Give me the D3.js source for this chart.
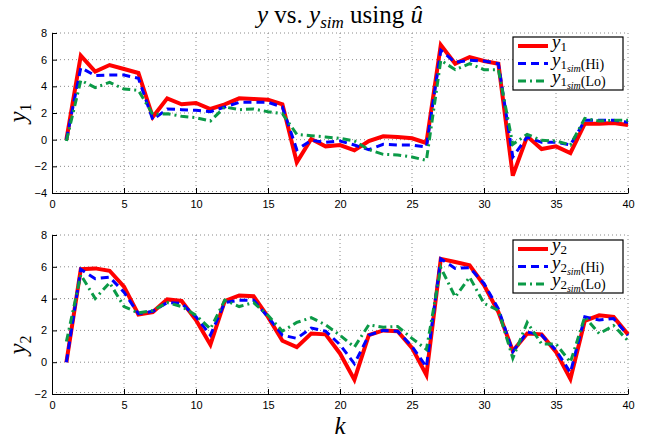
<!DOCTYPE html>
<html>
<head>
<meta charset="utf-8">
<script src="https://cdn.jsdelivr.net/npm/d3@7"></script>
<style>
  body { margin: 0; background: #fff; }
  svg { display: block; }
  .tick text { font-family: "Liberation Sans", Arial, sans-serif; font-size: 11px; fill: #000; }
</style>
</head>
<body>
<div id="content"></div>
<script>
const k = d3.range(1, 41);
const xTicks = [0, 5, 10, 15, 20, 25, 30, 35, 40];

const y1 = [0, 6.3, 5.1, 5.6, 5.3, 5.0, 1.7, 3.1, 2.65, 2.75, 2.3, 2.65, 3.1, 3.05, 3.0, 2.65, -1.7, 0.05, -0.5, -0.4,
    -0.8, -0.1, 0.25, 0.2, 0.1, -0.25, 7.1, 5.7, 6.2, 5.9, 5.7, -2.7, 0.25, -0.7, -0.5, -1.0, 1.2, 1.2, 1.25, 1.1];
const y1Hi = [0, 5.4, 4.8, 4.85, 4.85, 4.6, 1.5, 2.3, 2.25, 2.2, 2.1, 2.45, 2.8, 2.8, 2.8, 2.45, -0.75, -0.05, -0.2, -0.1,
    -0.4, -0.75, -0.35, -0.4, -0.4, -0.55, 6.7, 5.8, 5.95, 5.9, 5.7, -1.3, 0.2, -0.2, -0.2, -0.4, 1.45, 1.45, 1.45, 1.3];
const y1Lo = [-0.1, 4.45, 3.9, 4.3, 3.8, 3.7, 1.9, 1.95, 1.75, 1.65, 1.4, 2.45, 2.25, 2.3, 2.1, 1.95, 0.4, 0.3, 0.2, 0.1,
    -0.1, -0.75, -1.1, -1.15, -1.3, -1.55, 5.95, 5.25, 5.7, 5.25, 5.25, -0.35, 0.4, -0.05, -0.1, -0.4, 1.6, 1.4, 1.45, 1.45];

const y2 = [0, 5.85, 5.9, 5.75, 4.75, 3.0, 3.15, 3.95, 3.85, 2.65, 1.1, 3.85, 4.2, 4.15, 2.85, 1.35, 0.95, 1.8, 1.75, 0.55,
    -1.1, 1.7, 2.0, 1.95, 0.9, -0.8, 6.5, 6.3, 6.1, 4.85, 3.15, 0.7, 1.8, 1.75, 0.65, -1.05, 2.6, 2.95, 2.85, 1.75];
const y2Hi = [0, 5.85, 5.25, 5.35, 4.4, 3.05, 3.2, 3.75, 3.7, 2.85, 1.7, 3.75, 3.9, 3.9, 2.85, 1.7, 1.5, 2.15, 1.95, 1.1,
    -0.1, 1.7, 2.0, 1.95, 1.0, -0.3, 6.5, 5.9, 5.95, 4.95, 3.35, 0.65, 1.9, 1.7, 0.75, -0.65, 2.85, 2.65, 2.75, 1.7];
const y2Lo = [1.3, 5.5, 4.0, 5.0, 3.5, 3.1, 3.25, 3.75, 3.5, 2.95, 2.1, 3.9, 3.5, 3.75, 2.95, 1.95, 2.5, 2.8, 2.35, 1.7,
    0.95, 2.35, 2.2, 2.25, 1.5, 0.8, 5.95, 4.1, 5.35, 3.7, 3.25, 0.25, 2.5, 1.15, 1.15, 0.0, 2.85, 1.8, 2.3, 1.35];

const width = 654;
const height = 443;
const serif = '"Liberation Serif", "Times New Roman", serif';

const styles = [
    { color: '#ff0000', width: 4, dash: null },
    { color: '#0000ff', width: 3, dash: '8,5' },
    { color: '#0b9a47', width: 3, dash: '8,4,2,4' },
];

const panels = [
    { top: 33, bottom: 193, domain: [-4, 8], series: [y1, y1Hi, y1Lo], idx: '1', labelY: 113, legendY: 37 },
    { top: 235, bottom: 394, domain: [-2, 8], series: [y2, y2Hi, y2Lo], idx: '2', labelY: 345, legendY: 240 },
];

const svg = d3.select('#content').append('svg')
    .attr('width', width)
    .attr('height', height);

const x = d3.scaleLinear().domain([0, 40]).range([52, 628]);

// title: y vs. y_sim using u-hat
const title = svg.append('text')
    .attr('x', 340).attr('y', 23)
    .attr('text-anchor', 'middle')
    .style('font-family', serif)
    .style('font-size', '25px');
title.append('tspan').style('font-style', 'italic').text('y');
title.append('tspan').text(' vs. ');
title.append('tspan').style('font-style', 'italic').text('y');
title.append('tspan').style('font-style', 'italic').style('font-size', '17px').attr('dy', 5).text('sim');
title.append('tspan').attr('dy', -5).text(' using ');
title.append('tspan').style('font-style', 'italic').text('\u00fb');

panels.forEach((p) => {
    const y = d3.scaleLinear().domain(p.domain).range([p.bottom, p.top]);
    const g = svg.append('g');
    const yTicks = d3.range(p.domain[0], p.domain[1] + 1, 2);

    // dotted grid
    g.append('g').selectAll('line').data(xTicks.slice(1)).enter().append('line')
        .attr('x1', d => x(d)).attr('x2', d => x(d))
        .attr('y1', p.top).attr('y2', p.bottom)
        .style('stroke', '#8a8a8a').style('stroke-width', 1).style('stroke-dasharray', '1,3');
    g.append('g').selectAll('line').data(yTicks).enter().append('line')
        .attr('x1', x(0)).attr('x2', x(40))
        .attr('y1', d => y(d) - (d === p.domain[0] ? 1.5 : 0))
        .attr('y2', d => y(d) - (d === p.domain[0] ? 1.5 : 0))
        .style('stroke', '#8a8a8a').style('stroke-width', 1).style('stroke-dasharray', '1,3');

    g.append('g')
        .attr('transform', `translate(0,${p.bottom})`)
        .call(d3.axisBottom(x).tickValues(xTicks).tickSizeInner(-5).tickSizeOuter(0).tickPadding(7))
        .call(a => a.select('.domain').style('stroke', '#000'));

    g.append('g')
        .attr('transform', `translate(${x(0)},0)`)
        .call(d3.axisLeft(y).tickValues(yTicks).tickSizeInner(-5).tickSizeOuter(0).tickPadding(5))
        .call(a => a.select('.domain').style('stroke', '#000'));

    const line = d3.line().x((d, i) => x(k[i])).y(d => y(d));
    p.series.forEach((s, i) => {
        g.append('path')
            .datum(s)
            .attr('d', line)
            .style('fill', 'none')
            .style('stroke', styles[i].color)
            .style('stroke-width', styles[i].width)
            .style('stroke-dasharray', styles[i].dash)
            .style('stroke-linejoin', 'miter');
    });

    // y label, rotated
    const yl = svg.append('text')
        .attr('transform', `translate(26,${p.labelY}) rotate(-90)`)
        .attr('text-anchor', 'middle')
        .style('font-family', serif)
        .style('font-size', '25px');
    yl.append('tspan').style('font-style', 'italic').text('y');
    yl.append('tspan').style('font-size', '16px').attr('dy', 5).text(p.idx);

    // legend
    const lg = svg.append('g').attr('transform', `translate(513,${p.legendY})`);
    lg.append('rect')
        .attr('width', 110).attr('height', 53)
        .style('fill', '#fff').style('stroke', '#000').style('stroke-width', 1.2);
    const rows = [null, 'Hi', 'Lo'];
    rows.forEach((tag, i) => {
        const ry = 9 + i * 17.5;
        lg.append('line')
            .attr('x1', 5).attr('x2', 35).attr('y1', ry).attr('y2', ry)
            .style('stroke', styles[i].color)
            .style('stroke-width', styles[i].width)
            .style('stroke-dasharray', styles[i].dash);
        const t = lg.append('text')
            .attr('x', 39).attr('y', ry + 2)
            .style('font-family', serif)
            .style('font-size', '19px');
        t.append('tspan').style('font-style', 'italic').text('y');
        t.append('tspan').style('font-size', '13px').attr('dy', 3).text(p.idx);
        if (tag) {
            t.append('tspan').style('font-style', 'italic').style('font-size', '10px').attr('dy', 3).text('sim');
            t.append('tspan').style('font-size', '14px').attr('dy', -3).text(`(${tag})`);
        }
    });
});

svg.append('text')
    .attr('x', 340).attr('y', 434)
    .attr('text-anchor', 'middle')
    .style('font-family', serif)
    .style('font-style', 'italic')
    .style('font-size', '25px')
    .text('k');
</script>
</body>
</html>
